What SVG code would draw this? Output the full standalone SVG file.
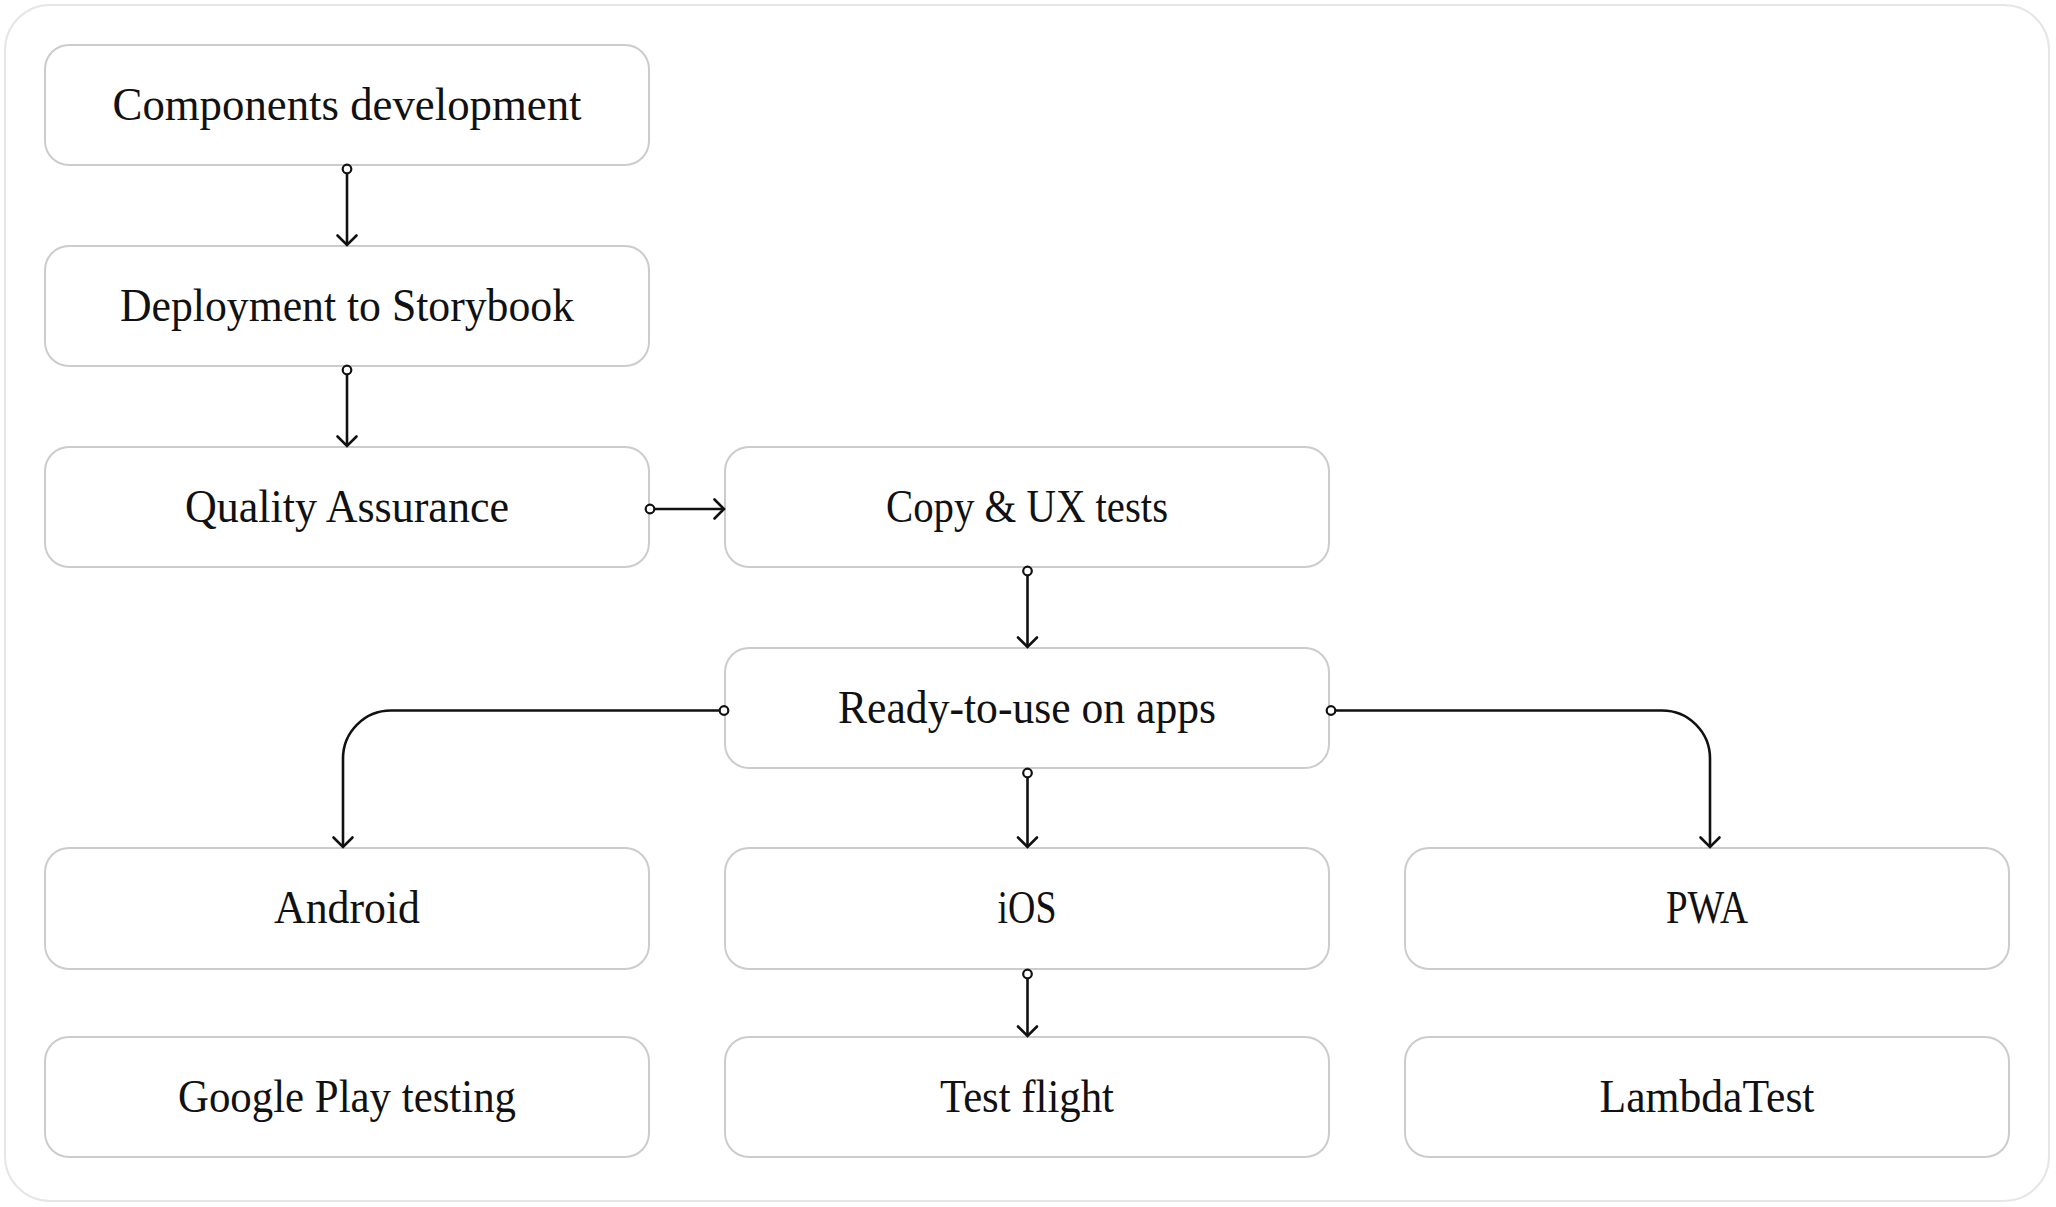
<svg xmlns="http://www.w3.org/2000/svg" width="2056" height="1207" viewBox="0 0 2056 1207">
<style>
.frame{fill:#ffffff;stroke:#e6e6e6;stroke-width:2}
.box{fill:#ffffff;stroke:#cccccc;stroke-width:2}
.lbl{font-family:"Liberation Serif","Times New Roman",serif;font-size:46px;fill:#111111;text-anchor:middle}
.edge{fill:none;stroke:#111111;stroke-width:2.6;marker-end:url(#arrow)}
.dot{fill:#ffffff;stroke:#111111;stroke-width:2.2}
</style>
<defs>
<marker id="arrow" markerUnits="userSpaceOnUse" viewBox="-12 -12 14 24" refX="0" refY="0" markerWidth="14" markerHeight="24" orient="auto" overflow="visible">
<path d="M-9.5,-9.5 L0,0 L-9.5,9.5" fill="none" stroke="#111111" stroke-width="2.6" stroke-linecap="round" stroke-linejoin="miter"/>
</marker>
</defs>
<rect class="frame" x="5" y="5" width="2044" height="1196" rx="45"/>
<g id="components-development"><rect class="box" x="45" y="45" width="604" height="120" rx="24"/><text class="lbl" x="347" y="120" textLength="469" lengthAdjust="spacingAndGlyphs">Components development</text></g>
<g id="deployment-to-storybook"><rect class="box" x="45" y="246" width="604" height="120" rx="24"/><text class="lbl" x="347" y="321" textLength="454" lengthAdjust="spacingAndGlyphs">Deployment to Storybook</text></g>
<g id="quality-assurance"><rect class="box" x="45" y="447" width="604" height="120" rx="24"/><text class="lbl" x="347" y="522" textLength="324" lengthAdjust="spacingAndGlyphs">Quality Assurance</text></g>
<g id="copy-ux-tests"><rect class="box" x="725" y="447" width="604" height="120" rx="24"/><text class="lbl" x="1027" y="522" textLength="282" lengthAdjust="spacingAndGlyphs">Copy &amp; UX tests</text></g>
<g id="ready-to-use"><rect class="box" x="725" y="648" width="604" height="120" rx="24"/><text class="lbl" x="1027" y="723" textLength="378" lengthAdjust="spacingAndGlyphs">Ready-to-use on apps</text></g>
<g id="android"><rect class="box" x="45" y="848" width="604" height="121" rx="24"/><text class="lbl" x="347" y="923" textLength="146" lengthAdjust="spacingAndGlyphs">Android</text></g>
<g id="ios"><rect class="box" x="725" y="848" width="604" height="121" rx="24"/><text class="lbl" x="1027" y="923" textLength="59" lengthAdjust="spacingAndGlyphs">iOS</text></g>
<g id="pwa"><rect class="box" x="1405" y="848" width="604" height="121" rx="24"/><text class="lbl" x="1707" y="923" textLength="82" lengthAdjust="spacingAndGlyphs">PWA</text></g>
<g id="google-play-testing"><rect class="box" x="45" y="1037" width="604" height="120" rx="24"/><text class="lbl" x="347" y="1112" textLength="338" lengthAdjust="spacingAndGlyphs">Google Play testing</text></g>
<g id="test-flight"><rect class="box" x="725" y="1037" width="604" height="120" rx="24"/><text class="lbl" x="1027" y="1112" textLength="174" lengthAdjust="spacingAndGlyphs">Test flight</text></g>
<g id="lambdatest"><rect class="box" x="1405" y="1037" width="604" height="120" rx="24"/><text class="lbl" x="1707" y="1112" textLength="215" lengthAdjust="spacingAndGlyphs">LambdaTest</text></g>
<g id="connectors">
<path class="edge" d="M347,169 V245"/>
<path class="edge" d="M347,370 V446"/>
<path class="edge" d="M650,509 H724"/>
<path class="edge" d="M1027.5,571 V647"/>
<path class="edge" d="M724,710.5 H391 A48,48 0 0 0 343,758.5 V847"/>
<path class="edge" d="M1027.5,773 V847"/>
<path class="edge" d="M1331,710.5 H1662 A48,48 0 0 1 1710,758.5 V847"/>
<path class="edge" d="M1027.5,974 V1036"/>
<circle class="dot" cx="347" cy="169" r="4.3"/>
<circle class="dot" cx="347" cy="370" r="4.3"/>
<circle class="dot" cx="650" cy="509" r="4.3"/>
<circle class="dot" cx="1027.5" cy="571" r="4.3"/>
<circle class="dot" cx="724" cy="710.5" r="4.3"/>
<circle class="dot" cx="1027.5" cy="773" r="4.3"/>
<circle class="dot" cx="1331" cy="710.5" r="4.3"/>
<circle class="dot" cx="1027.5" cy="974" r="4.3"/>
</g>
</svg>
